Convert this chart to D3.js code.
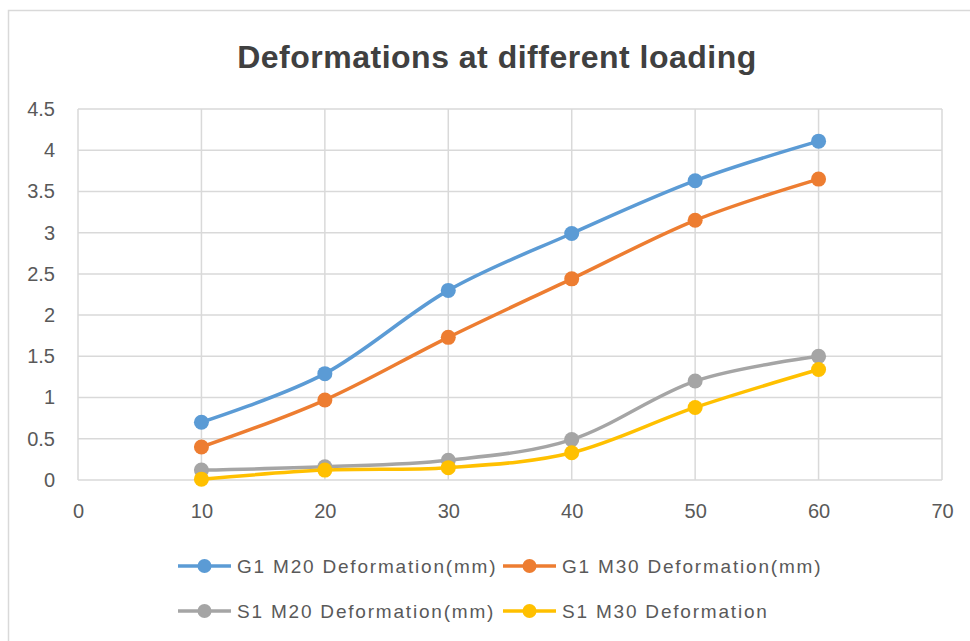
<!DOCTYPE html>
<html>
<head>
<meta charset="utf-8">
<script src="https://cdn.jsdelivr.net/npm/d3@7"></script>
<style>
  html, body { margin: 0; padding: 0; background: #fff; }
  svg { display: block; }
  text { font-family: "Liberation Sans", Arial, sans-serif; }
</style>
</head>
<body>
<svg id="chart" width="970" height="641"></svg>
<script>
// Load levels (x) and measured deformation for each specimen series
const loads = [10, 20, 30, 40, 50, 60];
const g1m20 = [0.70, 1.29, 2.30, 2.99, 3.63, 4.11];
const g1m30 = [0.40, 0.97, 1.73, 2.44, 3.15, 3.65];
const s1m20 = [0.12, 0.16, 0.24, 0.49, 1.20, 1.50];
const s1m30 = [0.01, 0.12, 0.15, 0.33, 0.88, 1.34];

const seriesNames = [
  "G1 M20 Deformation(mm)",
  "G1 M30 Deformation(mm)",
  "S1 M20 Deformation(mm)",
  "S1 M30 Deformation"
];
const seriesColors = ["#5B9BD5", "#ED7D31", "#A5A5A5", "#FFC000"];
const seriesValues = [g1m20, g1m30, s1m20, s1m30];

const xTicks = [0, 10, 20, 30, 40, 50, 60, 70];
const yTicks = [0, 0.5, 1, 1.5, 2, 2.5, 3, 3.5, 4, 4.5];
const titleText = "Deformations at different loading";

const svg = d3.select("#chart");
const grid = "#d9d9d9";
const labelColor = "#595959";

// chart frame
svg.append("rect")
  .attr("x", 8.5).attr("y", 10.5)
  .attr("width", 1000).attr("height", 700)
  .attr("fill", "#fff")
  .attr("stroke", grid).attr("stroke-width", 1.5);

const x = d3.scaleLinear().domain([0, 70]).range([78, 942]);
const y = d3.scaleLinear().domain([0, 4.5]).range([480, 109]);

// title
svg.append("text")
  .attr("x", 497).attr("y", 68)
  .attr("text-anchor", "middle")
  .attr("font-size", 32).attr("font-weight", "bold")
  .attr("letter-spacing", 0.5)
  .attr("fill", "#404040")
  .text(titleText);

// gridlines
const g = svg.append("g");
g.selectAll("line.h").data(yTicks).join("line")
  .attr("class", "h")
  .attr("x1", x(0)).attr("x2", x(70))
  .attr("y1", d => y(d)).attr("y2", d => y(d))
  .attr("stroke", grid).attr("stroke-width", 1.5);
g.selectAll("line.v").data(xTicks).join("line")
  .attr("class", "v")
  .attr("y1", y(0)).attr("y2", y(4.5))
  .attr("x1", d => x(d)).attr("x2", d => x(d))
  .attr("stroke", grid).attr("stroke-width", 1.5);

// axes (labels only; lines come from the grid)
const yAxis = svg.append("g")
  .attr("transform", `translate(${x(0)},0)`)
  .call(d3.axisLeft(y).tickValues(yTicks).tickSize(0).tickPadding(23).tickFormat(d3.format("")));
const xAxis = svg.append("g")
  .attr("transform", `translate(0,${y(0)})`)
  .call(d3.axisBottom(x).tickValues(xTicks).tickSize(0).tickPadding(24).tickFormat(d3.format("")));
[yAxis, xAxis].forEach(a => {
  a.select(".domain").remove();
  a.selectAll("text")
    .attr("font-family", "\"Liberation Sans\", Arial, sans-serif")
    .attr("font-size", 20)
    .attr("fill", labelColor);
});

// series lines and markers
const line = d3.line()
  .x((d, i) => x(loads[i]))
  .y(d => y(d))
  .curve(d3.curveCardinal.tension(0));

seriesValues.forEach((vals, k) => {
  svg.append("path")
    .attr("d", line(vals))
    .attr("fill", "none")
    .attr("stroke", seriesColors[k])
    .attr("stroke-width", 3.5)
    .attr("stroke-linecap", "round");
  svg.selectAll(null).data(vals).join("circle")
    .attr("cx", (d, i) => x(loads[i]))
    .attr("cy", d => y(d))
    .attr("r", 7.5)
    .attr("fill", seriesColors[k]);
});

// legend: two columns, two rows
const legendCols = [178, 503];
const legendRows = [566, 611];
const leg = svg.append("g");
seriesNames.forEach((name, k) => {
  const lx = legendCols[k % 2];
  const ly = legendRows[Math.floor(k / 2)];
  const item = leg.append("g").attr("transform", `translate(${lx},${ly})`);
  item.append("line")
    .attr("x1", 0).attr("x2", 53)
    .attr("stroke", seriesColors[k]).attr("stroke-width", 3.5);
  item.append("circle")
    .attr("cx", 26.5).attr("r", 7)
    .attr("fill", seriesColors[k]);
  item.append("text")
    .attr("x", 59).attr("y", 7)
    .attr("font-size", 19)
    .attr("letter-spacing", 1.8)
    .attr("fill", labelColor)
    .text(name);
});
</script>
</body>
</html>
